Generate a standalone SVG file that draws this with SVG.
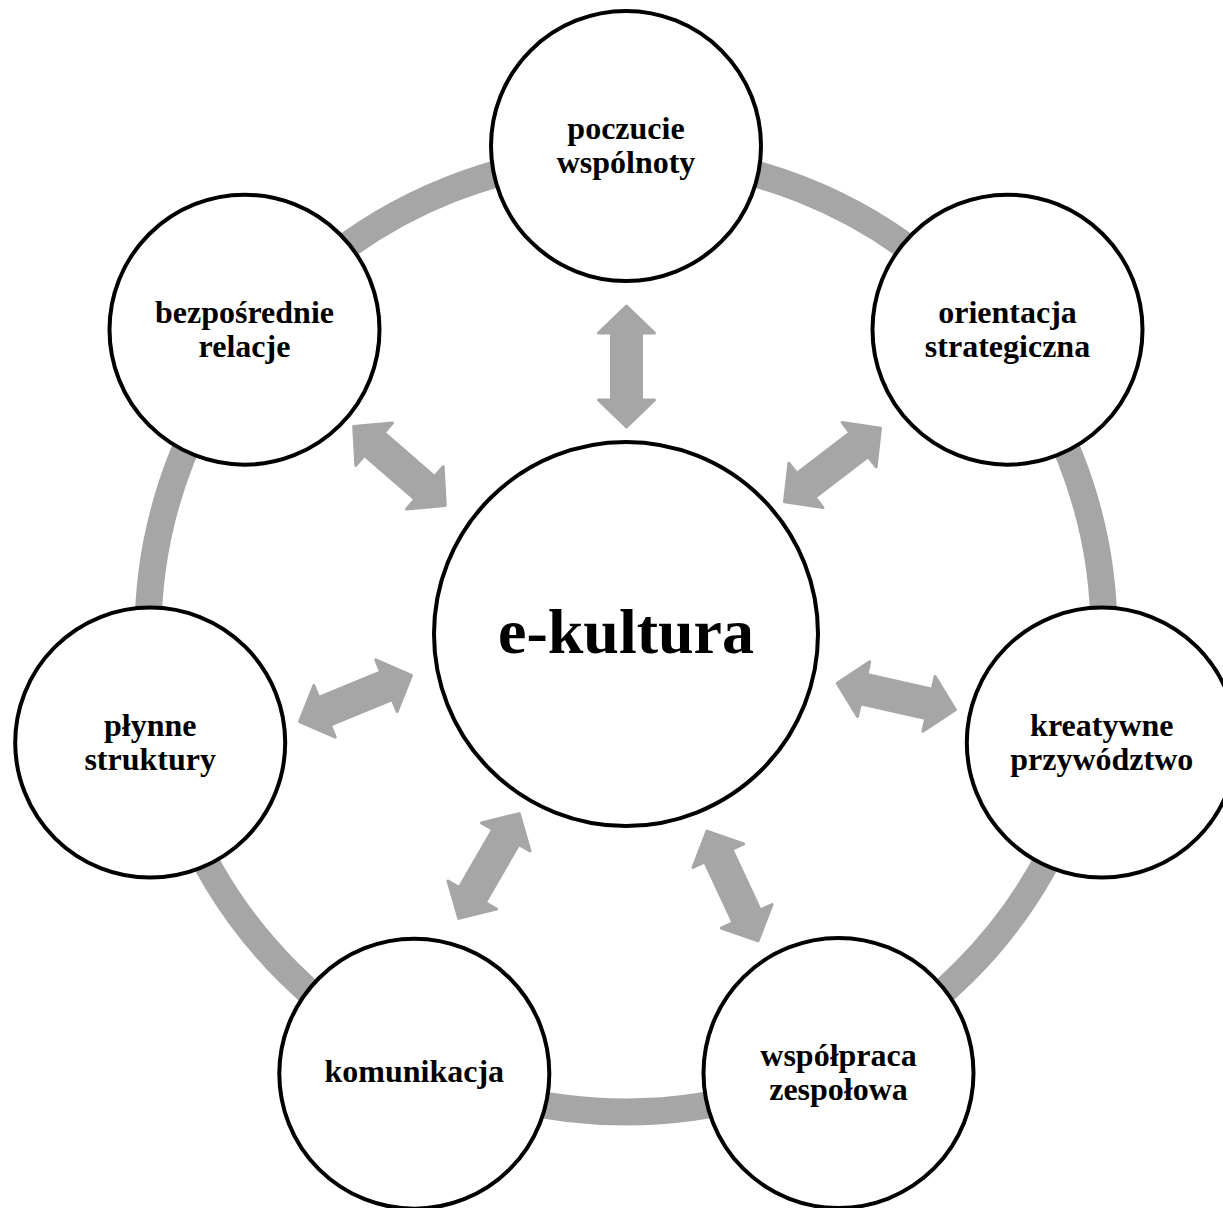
<svg xmlns="http://www.w3.org/2000/svg" xmlns:xlink="http://www.w3.org/1999/xlink" width="1223" height="1208" viewBox="0 0 1223 1208">
  <style>
    .ring { fill: none; stroke: #a6a6a6; stroke-width: 27; }
    .node { fill: #ffffff; stroke: #000000; stroke-width: 4; }
    .label { font-family: "Liberation Serif", "Times New Roman", serif; font-weight: bold; font-size: 32px; fill: #000000; text-anchor: middle; }
    .hub { font-family: "Liberation Serif", "Times New Roman", serif; font-weight: bold; font-size: 64px; fill: #000000; text-anchor: middle; }
    .arrow { fill: #a6a6a6; stroke: #a6a6a6; stroke-width: 3; stroke-linejoin: round; }
  </style>
  <defs>
    <!-- double-headed block arrow, centred on the origin, pointing along x -->
    <path id="dblArrow" d="M -60.5 0 L -33.5 -28 L -33.5 -15 L 33.5 -15 L 33.5 -28 L 60.5 0 L 33.5 28 L 33.5 15 L -33.5 15 L -33.5 28 Z"/>
  </defs>

  <rect width="1223" height="1208" fill="#ffffff"/>

  <!-- outer cycle band -->
  <circle class="ring" cx="626" cy="634" r="478"/>

  <!-- connectors between the hub and each satellite -->
  <g id="connectors">
    <use xlink:href="#dblArrow" class="arrow" transform="translate(626.5 366.5) rotate(90)"/>
    <use xlink:href="#dblArrow" class="arrow" transform="translate(832.5 465) rotate(-37.5)"/>
    <use xlink:href="#dblArrow" class="arrow" transform="translate(896.3 696.5) rotate(12.6)"/>
    <use xlink:href="#dblArrow" class="arrow" transform="translate(732.5 886) rotate(65)"/>
    <use xlink:href="#dblArrow" class="arrow" transform="translate(489 866) rotate(-60)"/>
    <use xlink:href="#dblArrow" class="arrow" transform="translate(355.5 698.5) rotate(-22.5)"/>
    <use xlink:href="#dblArrow" class="arrow" transform="translate(399.5 466) rotate(40.8)"/>
  </g>

  <g id="hub">
    <circle class="node" cx="626" cy="634" r="192"/>
    <text class="hub" x="626" y="653">e-kultura</text>
  </g>

  <g id="node-poczucie">
    <circle class="node" cx="626" cy="146" r="135"/>
    <text class="label" x="626" y="139">poczucie</text>
    <text class="label" x="626" y="173">wspólnoty</text>
  </g>

  <g id="node-orientacja">
    <circle class="node" cx="1007.5" cy="329.7" r="135"/>
    <text class="label" x="1007.5" y="322.7">orientacja</text>
    <text class="label" x="1007.5" y="356.7">strategiczna</text>
  </g>

  <g id="node-kreatywne">
    <circle class="node" cx="1101.8" cy="742.6" r="135"/>
    <text class="label" x="1101.8" y="735.6">kreatywne</text>
    <text class="label" x="1101.8" y="769.6">przywództwo</text>
  </g>

  <g id="node-wspolpraca">
    <circle class="node" cx="838.5" cy="1073" r="135"/>
    <text class="label" x="838.5" y="1066">współpraca</text>
    <text class="label" x="838.5" y="1100">zespołowa</text>
  </g>

  <g id="node-komunikacja">
    <circle class="node" cx="414.3" cy="1073.7" r="135"/>
    <text class="label" x="414.3" y="1081.7">komunikacja</text>
  </g>

  <g id="node-plynne">
    <circle class="node" cx="150.2" cy="742.6" r="135"/>
    <text class="label" x="150.2" y="735.6">płynne</text>
    <text class="label" x="150.2" y="769.6">struktury</text>
  </g>

  <g id="node-bezposrednie">
    <circle class="node" cx="244.5" cy="329.7" r="135"/>
    <text class="label" x="244.5" y="322.7">bezpośrednie</text>
    <text class="label" x="244.5" y="356.7">relacje</text>
  </g>
</svg>
